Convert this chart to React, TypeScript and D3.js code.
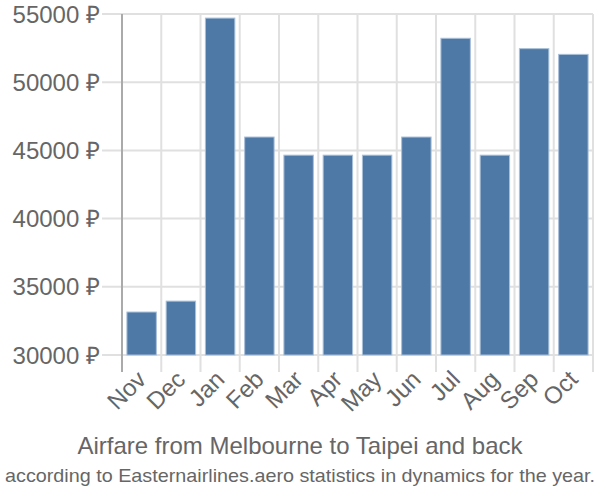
import React from "react";
import * as d3 from "d3";

const months = ["Nov", "Dec", "Jan", "Feb", "Mar", "Apr", "May", "Jun", "Jul", "Aug", "Sep", "Oct"];
const prices = [33150, 33950, 54700, 45980, 44650, 44650, 44650, 45980, 53220, 44650, 52460, 52040];
const yTicks = [30000, 35000, 40000, 45000, 50000, 55000];
const title = "Airfare from Melbourne to Taipei and back";
const subtitle = "according to Easternairlines.aero statistics in dynamics for the year.";

const W = 600, H = 500;
const left = 122, right = 593, top = 14, bottom = 355;

export default function App() {
  const x = d3.scaleBand<string>().domain(months).range([left, right]).paddingInner(0.25).paddingOuter(0.125);
  const xb = d3.scaleBand<string>().domain(months).range([left, right]);
  const y = d3.scaleLinear().domain([30000, 55000]).range([bottom, top]);
  const font = "'Liberation Sans', Arial, sans-serif";
  return (
    <svg width={W} height={H} style={{ position: "absolute", left: 0, top: 0, fontFamily: font }}>
      {yTicks.map((t) => (
        <g key={t}>
          <line x1={102} x2={right} y1={y(t)} y2={y(t)} stroke="#e0e0e0" strokeWidth={2} />
          <text x={100} y={y(t)} dy="0.36em" textAnchor="end" fontSize={24} fill="#666">
            {t} ₽
          </text>
        </g>
      ))}
      {months.map((m) => (
        <line key={m} x1={xb(m)!} x2={xb(m)!} y1={top} y2={bottom + 17} stroke="#e0e0e0" strokeWidth={2} />
      ))}
      <line x1={right} x2={right} y1={top} y2={bottom + 17} stroke="#e0e0e0" strokeWidth={2} />
      <line x1={left} x2={left} y1={top} y2={bottom + 17} stroke="#aaa" strokeWidth={2} />
      {months.map((m, i) => (
        <rect
          key={m}
          x={x(m)!}
          y={y(prices[i])}
          width={x.bandwidth()}
          height={bottom - y(prices[i])}
          fill="#4e79a7"
          stroke="#a9c0d8"
          strokeWidth={1}
        />
      ))}
      {months.map((m) => {
        const cx = xb(m)! + xb.bandwidth() / 2 - 6;
        return (
          <text
            key={m}
            transform={`translate(${cx},${bottom + 14}) rotate(-45)`}
            textAnchor="end"
            dy="0.7em"
            fontSize={24}
            fill="#666"
          >
            {m}
          </text>
        );
      })}
      <text x={300} y={454} textAnchor="middle" fontSize={24} fill="#666">
        {title}
      </text>
      <text
        x={300}
        y={482}
        textAnchor="middle"
        fontSize={19}
        fill="#666"
        textLength={590}
        lengthAdjust="spacingAndGlyphs"
      >
        {subtitle}
      </text>
    </svg>
  );
}
